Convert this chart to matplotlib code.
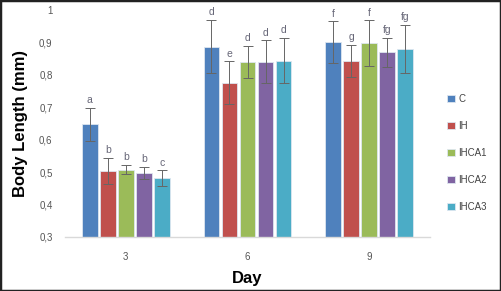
import matplotlib
matplotlib.use("Agg")
import matplotlib.pyplot as plt
import numpy as np
from matplotlib.patches import Rectangle

plt.rcParams['font.family'] = ['Liberation Sans', 'DejaVu Sans']

days = ["3", "6", "9"]
series = ["C", "IH", "IHCA1", "IHCA2", "IHCA3"]
colors = ["#4F81BD", "#C0504D", "#9BBB59", "#8064A2", "#4BACC6"]

values = {
    "C":     [0.648, 0.887, 0.901],
    "IH":    [0.504, 0.776, 0.843],
    "IHCA1": [0.508, 0.840, 0.897],
    "IHCA2": [0.498, 0.841, 0.870],
    "IHCA3": [0.481, 0.844, 0.881],
}
errors = {
    "C":     [0.051, 0.082, 0.064],
    "IH":    [0.040, 0.066, 0.050],
    "IHCA1": [0.014, 0.050, 0.071],
    "IHCA2": [0.018, 0.065, 0.045],
    "IHCA3": [0.025, 0.070, 0.074],
}
letters = {
    "C":     ["a", "d", "f"],
    "IH":    ["b", "e", "g"],
    "IHCA1": ["b", "d", "f"],
    "IHCA2": ["b", "d", "fg"],
    "IHCA3": ["c", "d", "fg"],
}
yticks = [0.3, 0.4, 0.5, 0.6, 0.7, 0.8, 0.9, 1.0]
ytick_labels = ["0,3", "0,4", "0,5", "0,6", "0,7", "0,8", "0,9", "1"]

fig = plt.figure(figsize=(5.01, 2.91), dpi=100)
ax = fig.add_axes([65/501, 1-237/291, 365/501, 227/291])

x = np.arange(len(days))
slot = 0.148
width = 0.128
for i, s in enumerate(series):
    pos = x + (i - 2) * slot
    ax.bar(pos, np.array(values[s]) - 0.3, bottom=0.3, width=width, color=colors[i],
           edgecolor="#dde6f0", linewidth=0.6, label=s, zorder=2)
    ax.errorbar(pos, values[s], yerr=errors[s], fmt="none", ecolor="#666666",
                elinewidth=0.7, capsize=3.5, capthick=0.7, zorder=3)
    for p, v, e, l in zip(pos, values[s], errors[s], letters[s]):
        ax.text(p, v + e + 0.008, l, ha="center", va="bottom", fontsize=7.5,
                color="#666677")

ax.set_xlim(-0.5, 2.5)
ax.set_ylim(0.3, 1.0)
ax.set_xticks(x)
ax.set_xticklabels(days, fontsize=7, color="#555555")
ax.set_yticks(yticks)
ax.set_yticklabels(ytick_labels, fontsize=7, color="#555555")
ax.tick_params(axis="both", length=0)
ax.tick_params(axis="y", pad=9)
ax.tick_params(axis="x", pad=11)
for sp in ["top", "right", "left"]:
    ax.spines[sp].set_visible(False)
ax.spines["bottom"].set_color("#d9d9d9")
ax.spines["bottom"].set_linewidth(1.0)

ax.set_ylabel("Body Length (mm)", fontsize=12, fontweight="bold", labelpad=8)
ax.set_xlabel("Day", fontsize=12, fontweight="bold", labelpad=6)

leg = fig.legend(loc="upper left", bbox_to_anchor=(443/501, 1-90/291), frameon=False,
                 fontsize=7, handlelength=0.8, handleheight=0.8, handletextpad=0.4,
                 labelspacing=1.75, borderaxespad=0)
for t in leg.get_texts():
    t.set_color("#444444")

fig.patches.append(Rectangle((0, 0), 1, 1, transform=fig.transFigure, fill=False,
                             edgecolor="#222222", linewidth=2.5))

fig.savefig("out.png", dpi=100)
